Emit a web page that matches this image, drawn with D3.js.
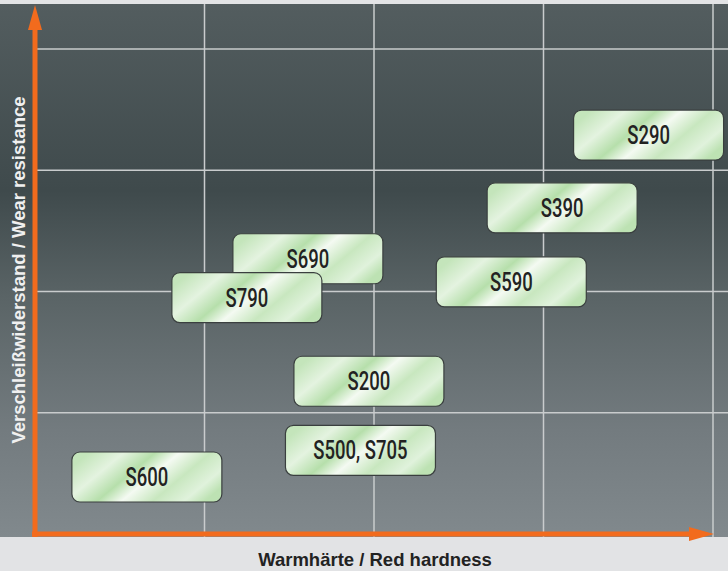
<!DOCTYPE html>
<html><head><meta charset="utf-8">
<script src="https://cdn.jsdelivr.net/npm/d3@7"></script>
<style>html,body{margin:0;padding:0;background:#e2e3e5;}svg{display:block;}</style>
</head><body>
<script>
const grades = ["S290","S390","S690","S790","S590","S200","S500, S705","S600"];
const redHardness = [3.62, 3.11, 1.61, 1.25, 2.81, 1.97, 1.92, 0.66];
const wearResistance = [3.29, 2.69, 2.27, 1.95, 2.08, 1.26, 0.69, 0.47];
const xTicks = [1, 2, 3, 4];
const yTicks = [1, 2, 3, 4];
const xTitle = "Warmhärte / Red hardness";
const yTitle = "Verschleißwiderstand / Wear resistance";

const W = 728, H = 571;
const svg = d3.select("body").append("svg").attr("width", W).attr("height", H);
const defs = svg.append("defs");

const bg = defs.append("linearGradient").attr("id","bg").attr("x1",0).attr("y1",0).attr("x2",0).attr("y2",1);
[[0,"#535d5f"],[0.35,"#3f4a4c"],[0.55,"#5a6466"],[0.8,"#737b7f"],[1,"#81898d"]].forEach(s=>bg.append("stop").attr("offset",s[0]).attr("stop-color",s[1]));

const gg = defs.append("linearGradient").attr("id","box").attr("x1",0).attr("y1",0.3).attr("x2",1).attr("y2",0.7);
[[0,"#c4e5bb"],[0.2,"#e4f3e0"],[0.38,"#b6dfab"],[0.52,"#f4faf2"],[0.7,"#c8e7bf"],[0.88,"#e0f2dc"],[1,"#bde2b3"]].forEach(s=>gg.append("stop").attr("offset",s[0]).attr("stop-color",s[1]));

svg.append("rect").attr("x",0).attr("y",0).attr("width",W).attr("height",H).attr("fill","#e2e3e5");
svg.append("rect").attr("x",0).attr("y",4).attr("width",W).attr("height",533).attr("fill","url(#bg)");

const x = d3.scaleLinear().domain([0,4]).range([35,713]);
const y = d3.scaleLinear().domain([0,4]).range([534,49]);

const grid = svg.append("g").attr("stroke","#c9cccd").attr("stroke-width",1.5);
grid.selectAll("line.v").data(xTicks).join("line").attr("class","v")
  .attr("x1",d=>x(d)).attr("x2",d=>x(d)).attr("y1",4).attr("y2",537);
grid.selectAll("line.h").data(yTicks).join("line").attr("class","h")
  .attr("x1",x(0)).attr("x2",W).attr("y1",d=>y(d)).attr("y2",d=>y(d));

// boxes
const bw = 150, bh = 50;
const data = grades.map((g,i)=>({g, x:redHardness[i], y:wearResistance[i]}));
const boxes = svg.append("g").selectAll("g").data(data).join("g")
  .attr("transform",d=>`translate(${x(d.x)},${y(d.y)})`);
boxes.append("rect").attr("x",-bw/2).attr("y",-bh/2).attr("width",bw).attr("height",bh)
  .attr("rx",8).attr("fill","url(#box)").attr("stroke","#3a3f3f").attr("stroke-width",1.2);
boxes.append("text").attr("text-anchor","middle").attr("transform","scale(0.74,1)").attr("dy","0.36em")
  .attr("font-family","Roboto,'DejaVu Sans',sans-serif").attr("font-weight",500)
  .attr("font-size",25).attr("fill","#222").text(d=>d.g);

// axes arrows
const orange = "#f26b1d";
svg.append("line").attr("x1",x(0)).attr("x2",x(0)).attr("y1",537).attr("y2",28)
  .attr("stroke",orange).attr("stroke-width",5);
svg.append("path").attr("d",`M${x(0)},5 L${x(0)-7},30 L${x(0)+7},30 Z`).attr("fill",orange);
svg.append("line").attr("x1",32).attr("x2",692).attr("y1",y(0)).attr("y2",y(0))
  .attr("stroke",orange).attr("stroke-width",5);
svg.append("path").attr("d",`M714,${y(0)} L689,${y(0)-7} L689,${y(0)+7} Z`).attr("fill",orange);

svg.append("text").attr("x",375).attr("y",566).attr("text-anchor","middle")
  .attr("font-family","'Liberation Sans',Arial,sans-serif").attr("font-weight","bold")
  .attr("font-size",18.5).attr("fill","#222").text(xTitle);
svg.append("text").attr("transform","translate(25,270) rotate(-90)").attr("text-anchor","middle")
  .attr("font-family","'Liberation Sans',Arial,sans-serif").attr("font-weight","bold")
  .attr("font-size",18.5).attr("fill","#f0f0f0").text(yTitle);
</script>
</body></html>
